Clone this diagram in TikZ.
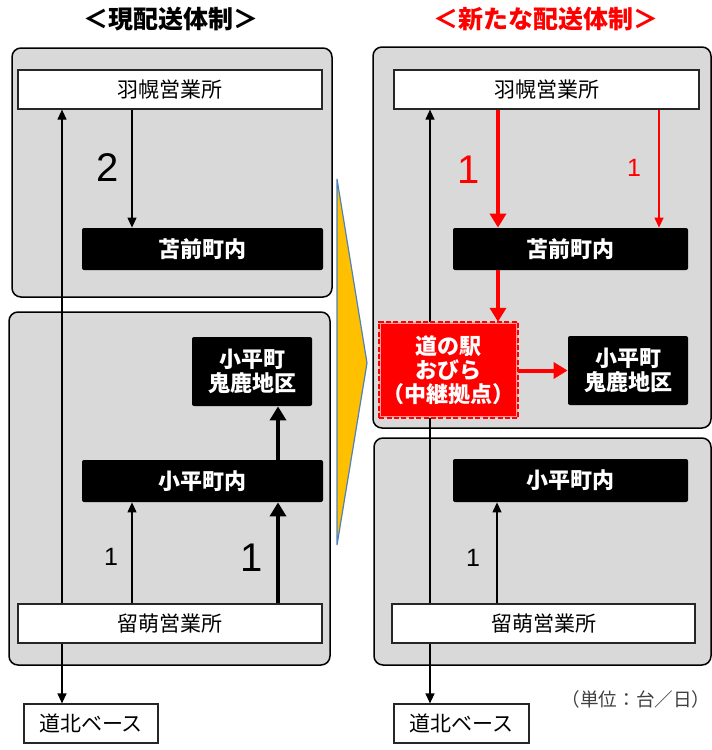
\documentclass[tikz,border=0pt]{standalone}
\usepackage{fontspec}
\setmainfont{Noto Sans CJK JP}
\newfontfamily\numfont{Liberation Sans}
\usetikzlibrary{arrows.meta,calc}
\pgfdeclarelayer{bg}\pgfdeclarelayer{mid}\pgfsetlayers{bg,mid,main}
\definecolor{panelgray}{HTML}{D9D9D9}
\definecolor{arrowyellow}{HTML}{FFC000}
\definecolor{edgeblue}{HTML}{4F81BD}
\definecolor{unitgray}{HTML}{404040}
\definecolor{pinkgap}{HTML}{FF9A9A}
\begin{document}
\begin{tikzpicture}[x=0.5pt,y=-0.5pt,
  panel/.style={fill=panelgray, draw=black, line width=0.75pt, rounded corners=4.5pt},
  wbox/.style={draw=black!85, fill=white, line width=0.6pt, inner sep=0pt, font=\fontsize{10.5}{12}\selectfont},
  bbox/.style={fill=black, rounded corners=1pt, text=white, font=\bfseries\fontsize{11}{12}\selectfont, align=center, inner sep=0pt},
  ekibox/.style={fill=red, draw=pinkgap, line width=1.2pt, text=white, font=\bfseries\fontsize{11}{12}\selectfont, align=center, inner sep=0pt},
  thinarr/.style={line width=0.6pt, -{Triangle[width=4.5pt,length=5pt]}},
  bothtips/.style={line width=0.6pt, {Triangle[width=4.5pt,length=5pt]}-{Triangle[width=4.5pt,length=5pt]}},
  thickarr/.style={line width=2pt, -{Triangle[width=8pt,length=7pt]}},
  bignum/.style={font=\numfont\fontsize{20}{20}\selectfont},
  smallnum/.style={font=\numfont\fontsize{12.5}{12.5}\selectfont},
  titlefont/.style={font=\bfseries\fontsize{12.5}{14}\selectfont}
]
\useasboundingbox (0,0) rectangle (712,750);

% titles
\node[titlefont] (t1) at (171,19) {＜現配送体制＞};
\node[titlefont, text=red] (t2) at (546,19) {＜新たな配送体制＞};

% ---------- left side ----------
\node[wbox, minimum width=152pt, minimum height=19.5pt] (hab1) at (170,89.5) {羽幌営業所};
\node[bbox, minimum width=120.5pt, minimum height=21pt] (toma1) at (202.5,249) {苫前町内};
\node[bbox, minimum width=60pt, minimum height=34.5pt] (oni1) at (252,371.5) {小平町\\鬼鹿地区};
\node[bbox, minimum width=120.5pt, minimum height=21pt] (kod1) at (202.5,481) {小平町内};
\node[wbox, minimum width=152pt, minimum height=19.5pt] (rum1) at (170,623.5) {留萌営業所};
\node[wbox, minimum width=67pt, minimum height=19.5pt] (doh1) at (91,723.5) {道北ベース};

\coordinate (xl) at (62,0);
\coordinate (xa) at (132,0);
\coordinate (xb) at (278,0);

\draw[thinarr] (hab1.south -| xa) -- (toma1.north -| xa);
\draw[thinarr] (rum1.north -| xa) -- (kod1.south -| xa);
\draw[thickarr] (rum1.north -| xb) -- (kod1.south -| xb);
\draw[thickarr] (kod1.north -| xb) -- (oni1.south -| xb);

\node[bignum] (n2) at (108,168) {2};
\node[smallnum] (n1a) at (111,557) {1};
\node[bignum] (n1b) at (252,558) {1};

% ---------- right side ----------
\node[wbox, minimum width=152.5pt, minimum height=19.5pt] (hab2) at (546.5,89.5) {羽幌営業所};
\node[bbox, minimum width=117.5pt, minimum height=21pt] (toma2) at (570.5,249) {苫前町内};
\node[ekibox, minimum width=68.5pt, minimum height=47pt] (eki) at (448.5,370) {道の駅\\おびら\\（中継拠点）};
\node[bbox, minimum width=60pt, minimum height=34.5pt] (oni2) at (628,370.5) {小平町\\鬼鹿地区};
\node[bbox, minimum width=117.5pt, minimum height=21.5pt] (kod2) at (570.5,480.5) {小平町内};
\node[wbox, minimum width=151.5pt, minimum height=19.5pt] (rum2) at (543.5,623.5) {留萌営業所};
\node[wbox, minimum width=67.5pt, minimum height=19.5pt] (doh2) at (461.5,723.5) {道北ベース};
\draw[red, dashed, line width=1.2pt, dash pattern=on 2.5pt off 1.2pt] (eki.south west) rectangle (eki.north east);

\coordinate (xr) at (430,0);
\coordinate (xc) at (498,0);
\coordinate (xd) at (659,0);
\coordinate (xe) at (497,0);

\draw[thickarr, red] (hab2.south -| xc) -- (toma2.north -| xc);
\draw[thinarr, red] (hab2.south -| xd) -- (toma2.north -| xd);
\draw[thickarr, red] (toma2.south -| xc) -- (eki.north -| xc);
\draw[thickarr, red] (eki.east |- oni2.west) -- (oni2.west);
\draw[thinarr] (rum2.north -| xe) -- (kod2.south -| xe);

\node[bignum, text=red] (r1a) at (469,170) {1};
\node[smallnum, text=red] (r1b) at (634,168) {1};
\node[smallnum] (r1c) at (473,558) {1};

\node[font=\fontsize{9.3}{10}\selectfont, text=unitgray, inner sep=1pt] (unit) at (636,699) {（単位：台／日）};

% ---------- background layers ----------
\begin{pgfonlayer}{bg}
  \draw[panel] (12,48) rectangle (332,297);
  \draw[panel] (9,312) rectangle (330,665);
  \draw[panel] (373,47) rectangle (711,428);
  \draw[panel] (374,438) rectangle (711,665);
  \draw[fill=arrowyellow, draw=edgeblue, line width=0.6pt] (337,179) -- (367,363) -- (337,545) -- cycle;
\end{pgfonlayer}
\begin{pgfonlayer}{mid}
  \draw[bothtips] (hab1.south -| xl) -- (doh1.north -| xl);
  \draw[bothtips] (hab2.south -| xr) -- (doh2.north -| xr);
\end{pgfonlayer}
\end{tikzpicture}
\end{document}
